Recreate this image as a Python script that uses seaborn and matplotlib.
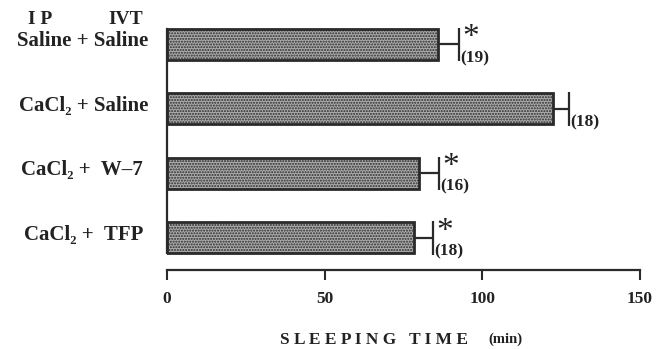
import matplotlib
matplotlib.use("Agg")
import matplotlib.pyplot as plt
import seaborn as sns
import pandas as pd

# values
groups = ["Saline + Saline", "CaCl₂ + Saline", "CaCl₂ +  W–7 ", "CaCl₂ +  TFP "]
sleep_min = [86, 122.5, 80, 78.5]
sem_min = [6.5, 5.0, 6.3, 5.8]
n_counts = ["(19)", "(18)", "(16)", "(18)"]
signif = [True, False, True, True]
ticks = [0, 50, 100, 150]

df = pd.DataFrame({"group": groups, "time": sleep_min})

sns.set_style("white")
plt.rcParams["font.family"] = ["Liberation Serif", "DejaVu Serif"]
plt.rcParams["hatch.linewidth"] = 1.0
plt.rcParams["hatch.color"] = "#3c3c3c"

ink = "#222222"

fig = plt.figure(figsize=(6.57, 3.49), dpi=100)
ax = fig.add_axes([0.254, 0.2264, 0.72, 0.7385])

sns.barplot(data=df, x="time", y="group", orient="h", color="#acacac",
            width=0.48, edgecolor="#2a2a2a", linewidth=2, hatch="......",
            errorbar=None, ax=ax)

# one-sided error bars, n and significance marks
for i, (v, e) in enumerate(zip(sleep_min, sem_min)):
    ax.hlines(i, v, v + e, color="#2a2a2a", lw=1.6)
    ax.vlines(v + e, i - 0.26, i + 0.26, color="#2a2a2a", lw=1.6)
    ax.text(v + e + 0.5, i + 0.21, n_counts[i], fontsize=12.5, fontweight="bold",
            va="center", ha="left", color=ink)
    if signif[i]:
        ax.text(v + e + 1.2, i - 0.1, "*", fontsize=24, va="center",
                ha="left", color=ink)

# group labels
ax.set_yticks(range(len(groups)))
ax.set_yticklabels([])
for i, g in enumerate(groups):
    ax.text(-0.040, i - 0.05, g, transform=ax.get_yaxis_transform(),
            fontsize=15, fontweight="bold", ha="right", va="center", color=ink)

ax.set_xlim(0, 150)
ax.set_ylim(3.5, -0.5)
ax.set_xticks(ticks)
ax.set_xticklabels([str(t) for t in ticks], fontsize=12.5, fontweight="bold",
                   color=ink)
ax.tick_params(axis="x", bottom=True, direction="out", length=7, width=1.5,
               pad=8, color="#2a2a2a")
ax.tick_params(axis="y", left=False, length=0)
ax.set_xlabel("")
ax.set_ylabel("")

for side in ["top", "right"]:
    ax.spines[side].set_visible(False)
ax.spines["left"].set_bounds(-0.24, 3.24)
for side in ["left", "bottom"]:
    ax.spines[side].set_linewidth(1.6)
    ax.spines[side].set_color("#2a2a2a")

# column headers above the first label
fig.text(40 / 657, 1 - 20 / 349, "I P", fontsize=14, fontweight="bold",
         ha="center", va="center", color=ink)
fig.text(126 / 657, 1 - 20 / 349, "IVT", fontsize=14, fontweight="bold",
         ha="center", va="center", color=ink)

fig.text(374.5 / 657, 1 - 340 / 349, "S L E E P I N G   T I M E", fontsize=12.5,
         fontweight="bold", ha="center", va="center", color=ink)
fig.text(505 / 657, 1 - 339 / 349, "(min)", fontsize=10.5, fontweight="bold",
         ha="center", va="center", color=ink)

fig.savefig("out.png", dpi=100, facecolor="white")
